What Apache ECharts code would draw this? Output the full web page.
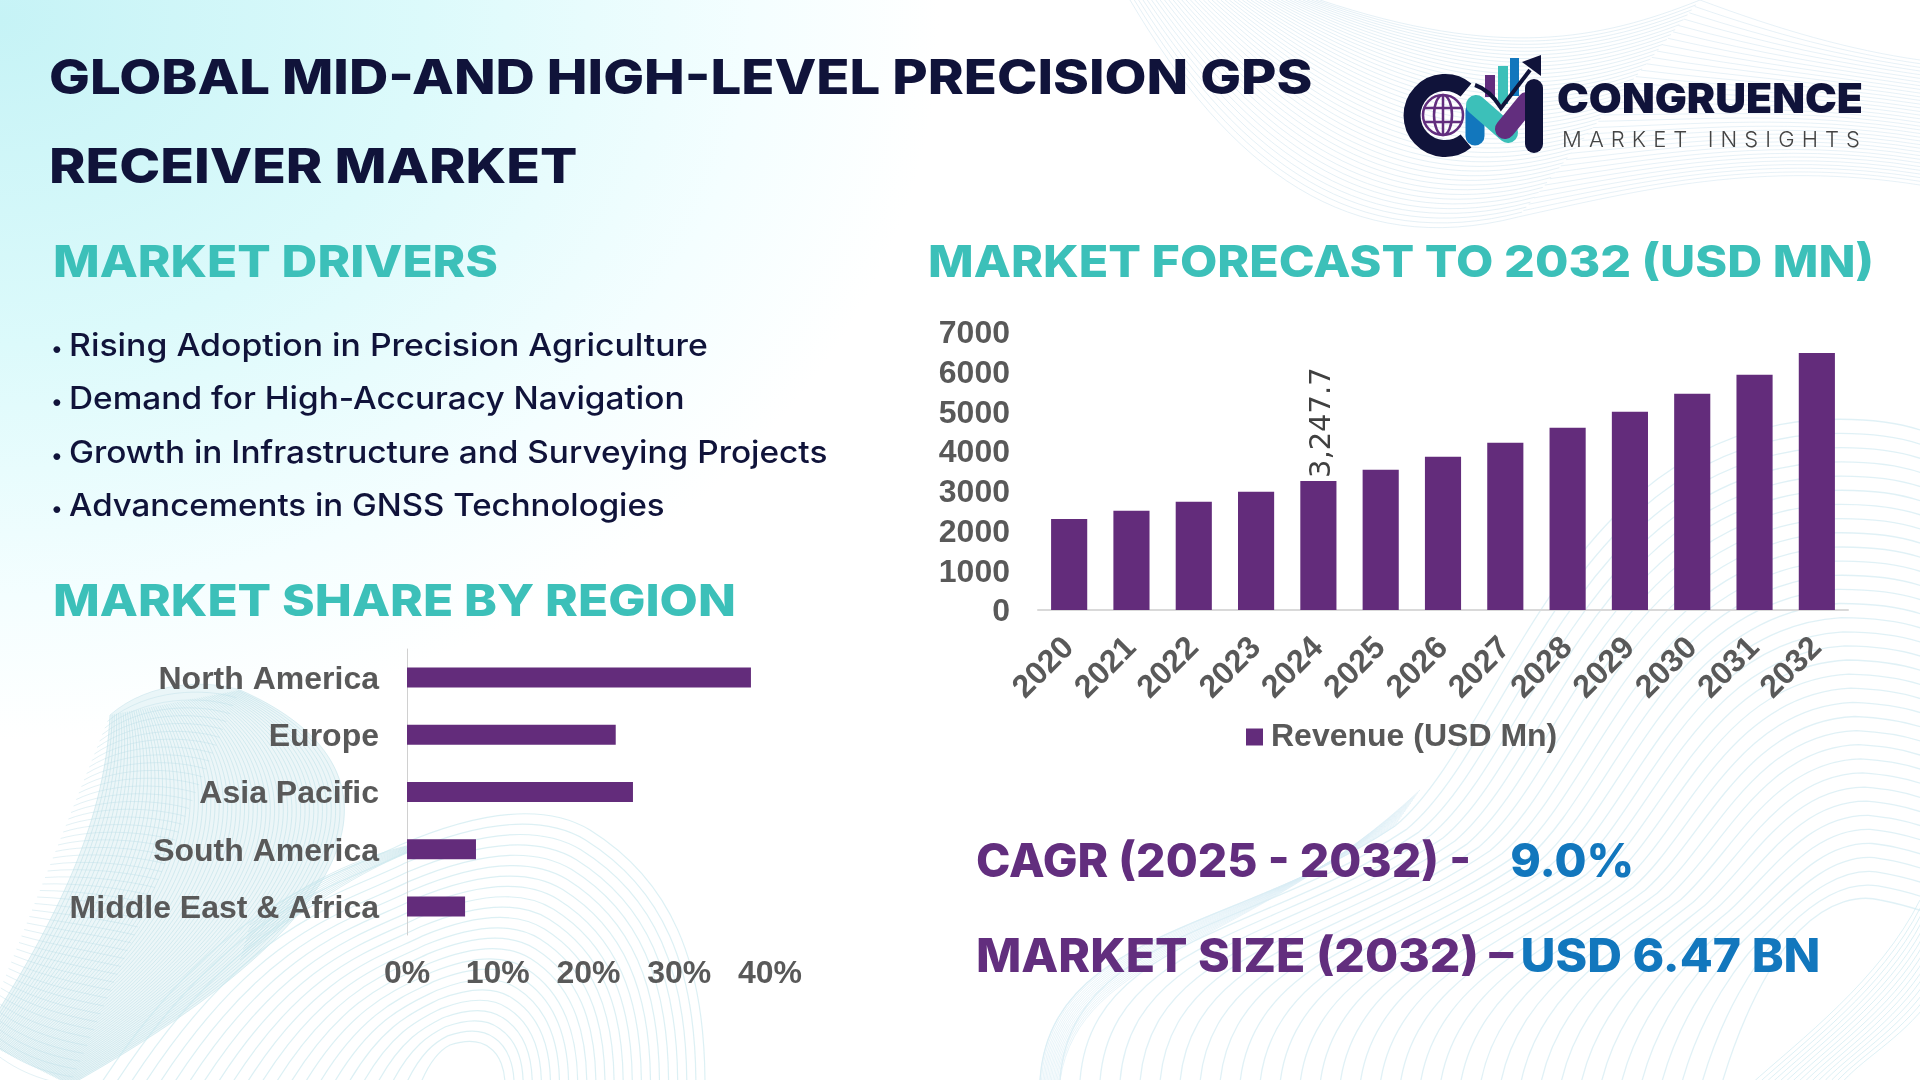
<!DOCTYPE html>
<html lang="en">
<head>
	<meta charset="UTF-8">
	<title>Global Mid-and High-Level Precision GPS Receiver Market</title>
	<script src="https://cdn.jsdelivr.net/npm/echarts@6/dist/echarts.min.js"></script>
	<style>
		html, body { margin:0; padding:0; width:1920px; height:1080px; overflow:hidden; background:#fff; }
		#wrap { position:relative; width:1920px; height:1080px; overflow:hidden;
			background:radial-gradient(ellipse 940px 720px at 0 20px, #c6f3f6 0%, #dcfafb 45%, #f4feff 80%, #ffffff 100%); }
		#bg, #chart, #logo { position:absolute; left:0; top:0; width:1920px; height:1080px; }
		.txt { position:absolute; margin:0; white-space:nowrap; font-family:'Inter',sans-serif; line-height:1; transform-origin:left center; }
		.title { color:#10133a; font-size:48px; font-weight:800; left:49px; }
		.head { color:#3cc0b9; font-size:44px; font-weight:800; }
		.bullet { color:#10133a; font-size:31px; font-weight:500; left:69px; }
		.dot { position:absolute; left:51px; color:#10133a; font:500 22px 'Inter',sans-serif; }
		.kpi { color:#622e7e; font-size:46px; font-weight:800; left:976px; }
		.kpi span { color:#1277bd; position:absolute; top:0; }
	</style>
</head>
<body>
	<div id="wrap">
		<svg id="bg" viewBox="0 0 1920 1080"></svg>
		<div id="chart"></div>

		<!-- headings// -->
		<h1 class="txt title" style="top:53px;transform:scaleX(1.134);">GLOBAL MID-AND HIGH-LEVEL PRECISION GPS</h1>
		<h1 class="txt title" style="top:142px;transform:scaleX(1.15);">RECEIVER MARKET</h1>
		<h2 class="txt head" style="left:53px;top:239px;transform:scaleX(1.125);">MARKET DRIVERS</h2>
		<h2 class="txt head" style="left:928px;top:239px;transform:scaleX(1.10);">MARKET FORECAST TO 2032 (USD MN)</h2>
		<h2 class="txt head" style="left:53px;top:578px;transform:scaleX(1.127);">MARKET SHARE BY REGION</h2>
		<!-- //headings -->

		<div class="dot" style="top:335px;">•</div>
		<div class="dot" style="top:388px;">•</div>
		<div class="dot" style="top:442px;">•</div>
		<div class="dot" style="top:495px;">•</div>
		<div class="txt bullet" style="top:329px;transform:scaleX(1.09);">Rising Adoption in Precision Agriculture</div>
		<div class="txt bullet" style="top:382px;transform:scaleX(1.077);">Demand for High-Accuracy Navigation</div>
		<div class="txt bullet" style="top:436px;transform:scaleX(1.077);">Growth in Infrastructure and Surveying Projects</div>
		<div class="txt bullet" style="top:489px;transform:scaleX(1.066);">Advancements in GNSS Technologies</div>

		<div class="txt kpi" style="top:837px;transform:scaleX(1.008);">CAGR (2025 - 2032) -<span style="left:530px;">9.0%</span></div>
		<div class="txt kpi" style="top:932px;transform:scaleX(1.045);">MARKET SIZE (2032) –<span style="left:521px;">USD 6.47 BN</span></div>

		<!-- logo// -->
		<svg id="logo" viewBox="0 0 1920 1080">
			<path d="M1466 90 A33 33 0 1 0 1466 141" fill="none" stroke="#10133a" stroke-width="17"/>
			<g fill="none" stroke="#622e7e" stroke-width="2.5">
				<circle cx="1443" cy="115" r="20"/>
				<ellipse cx="1443" cy="115" rx="9" ry="20"/>
				<path d="M1443 95 V135 M1424 108 H1462 M1424 122 H1462"/>
			</g>
			<path d="M1475 110 V136" stroke="#1277bd" stroke-width="19" stroke-linecap="round"/>
			<path d="M1476 105 L1508 133" stroke="#3cc0b9" stroke-width="20" stroke-linecap="round"/>
			<path d="M1505 129 L1527 102" stroke="#622e7e" stroke-width="20" stroke-linecap="round"/>
			<path d="M1534 88 V144" stroke="#10133a" stroke-width="18" stroke-linecap="round"/>
			<rect x="1485" y="75" width="10" height="22" fill="#622e7e"/>
			<rect x="1498" y="66" width="10" height="38" fill="#3cc0b9"/>
			<rect x="1510" y="58" width="9" height="38" fill="#1277bd"/>
			<path d="M1475 85 Q1490 90 1501 108 L1530 70" fill="none" stroke="#10133a" stroke-width="4"/>
			<path d="M1522 62 L1541 55 L1541 76 Z" fill="#10133a"/>
			<text x="1557" y="113" font-family="Inter" font-weight="900" font-size="41" fill="#10133a" textLength="306" lengthAdjust="spacingAndGlyphs">CONGRUENCE</text>
			<text x="1562" y="147" font-family="Inter" font-weight="300" font-size="22" fill="#444" textLength="298" lengthAdjust="spacing">MARKET INSIGHTS</text>
		</svg>
		<!-- //logo -->
	</div>

	<script>
	var years = ['2020', '2021', '2022', '2023', '2024', '2025', '2026', '2027', '2028', '2029', '2030', '2031', '2032'];
	var revenue = [2294, 2496, 2723, 2975, 3247.7, 3529, 3857, 4210, 4588, 4992, 5445, 5924, 6470];
	var regions = ['North America', 'Europe', 'Asia Pacific', 'South America', 'Middle East & Africa'];
	var regionShare = [37.9, 23, 24.9, 7.6, 6.4];
	var labelledYear = '2024';

	/* 배경 메쉬 */
	function ribbon(a, b, n, color, width, opacity) {
		var out = '';
		for (var i = 0; i <= n; i++) {
			var k = i / n, d = '';
			for (var j = 0; j < a.length; j++) {
				var x = (a[j][0] + (b[j][0] - a[j][0]) * k).toFixed(1);
				var y = (a[j][1] + (b[j][1] - a[j][1]) * k).toFixed(1);
				d += (j === 0 ? 'M' : (j === 1 ? ' C' : ' ')) + x + ' ' + y;
			}
			out += '<path d="' + d + '" fill="none" stroke="' + color + '" stroke-width="' + width + '" opacity="' + opacity + '"/>';
		}
		return out;
	}
	var bgHtml = '';
	// top right
	bgHtml += ribbon([[1130,0],[1230,170],[1350,260],[1518,217]], [[1320,0],[1500,60],[1600,40],[1700,0]], 44, '#d3e6f0', 1, 0.6);
	bgHtml += ribbon([[1518,217],[1640,190],[1760,160],[1920,185]], [[1700,0],[1780,30],[1850,50],[1920,60]], 34, '#d3e6f0', 1, 0.55);
	// bottom left blob
	bgHtml += '<path d="M110 715 C150 680 210 680 240 690 C400 760 400 900 70 1085 L-20 1040 C50 930 105 830 110 715Z" fill="#bfe1e9" opacity="0.3"/>';
	bgHtml += ribbon([[110,715],[105,830],[50,930],[-20,1040]], [[240,690],[400,760],[400,900],[70,1085]], 60, '#b8dde6', 1, 0.5);
	bgHtml += ribbon([[110,715],[150,680],[210,680],[240,690]], [[-20,1040],[10,1070],[40,1080],[70,1085]], 50, '#b8dde6', 1, 0.4);
	bgHtml += ribbon([[240,960],[300,910],[360,870],[420,848]], [[250,925],[300,885],[360,855],[420,843]], 10, '#b8dde6', 1, 0.5);
	// bottom centre domes
	bgHtml += ribbon(
		[[100,1085],[220,900],[330,880],[400,845],[470,815],[540,800],[590,830],[670,880],[705,960],[705,1085]],
		[[420,1085],[430,1060],[440,1050],[450,1045],[465,1040],[480,1040],[490,1048],[500,1055],[505,1070],[505,1085]],
		22, '#c9e8ee', 1.2, 0.65);
	// bottom right domes
	bgHtml += ribbon(
		[[1040,1080],[1050,930],[1240,930],[1395,826],[1500,740],[1560,440],[1814,420],[1850,418],[1890,420],[1920,430]],
		[[1720,1090],[1740,1020],[1770,960],[1800,930],[1830,900],[1860,895],[1880,900],[1895,903],[1905,905],[1925,912]],
		34, '#cfe9f1', 1.3, 0.65);
	bgHtml += ribbon([[1040,1080],[1050,930],[1240,930],[1395,826]], [[1060,1080],[1080,950],[1250,950],[1420,790]], 14, '#d9edf5', 1, 0.6);
	bgHtml += ribbon([[1920,900],[1880,980],[1800,1040],[1750,1085]], [[1930,1000],[1900,1040],[1860,1060],[1840,1085]], 14, '#cfe9f1', 1, 0.7);
	document.getElementById('bg').innerHTML = bgHtml;

	/* 차트 */
	var axisFont = { color:'#595959', fontFamily:'Liberation Sans', fontSize:32, fontWeight:'bold' };
	var chart = echarts.init(document.getElementById('chart'), null, { width:1920, height:1080 });
	chart.setOption({
		animation: false,
		backgroundColor: 'transparent',
		legend: {
			left: 1241,
			top: 716,
			icon: 'rect',
			itemWidth: 17,
			itemHeight: 17,
			itemGap: 8,
			textStyle: Object.assign({ padding:[0, 0, 0, 3] }, axisFont),
			data: ['Revenue (USD Mn)']
		},
		grid: [
			{ left:1038, top:332, width:810, height:278 },
			{ left:407, top:649, width:363, height:286 }
		],
		xAxis: [
			{
				type: 'category',
				gridIndex: 0,
				data: years,
				axisTick: { show:false },
				axisLine: { lineStyle:{ color:'#d9d9d9', width:2 } },
				axisLabel: Object.assign({ rotate:45, margin:33, interval:0 }, axisFont)
			},
			{
				type: 'value',
				gridIndex: 1,
				min: 0,
				max: 40,
				interval: 10,
				splitLine: { show:false },
				axisLine: { show:false },
				axisLabel: Object.assign({ margin:23, formatter:'{value}%' }, axisFont)
			}
		],
		yAxis: [
			{
				type: 'value',
				gridIndex: 0,
				min: 0,
				max: 7000,
				interval: 1000,
				splitLine: { show:false },
				axisLine: { show:false },
				axisLabel: Object.assign({ margin:28, verticalAlign:'top', lineHeight:5, formatter:function(v) { return String(v); } }, axisFont)
			},
			{
				type: 'category',
				gridIndex: 1,
				inverse: true,
				data: regions,
				axisTick: { show:false },
				axisLine: { lineStyle:{ color:'#d0d0d0', width:1 } },
				axisLabel: Object.assign({ margin:28, interval:0, verticalAlign:'top', lineHeight:5 }, axisFont)
			}
		],
		series: [
			{
				name: 'Revenue (USD Mn)',
				type: 'bar',
				xAxisIndex: 0,
				yAxisIndex: 0,
				barWidth: '58%',
				itemStyle: { color:'#632c7b' },
				label: {
					show: true,
					position: 'top',
					rotate: 90,
					distance: 1,
					offset: [2, 4],
					align: 'left',
					verticalAlign: 'middle',
					color: '#404040',
					fontFamily: 'DejaVu Sans',
					fontSize: 29,
					formatter: function(p) {
						return p.name === labelledYear ? echarts.format.addCommas(p.value) : '';
					}
				},
				data: revenue
			},
			{
				name: 'Share',
				type: 'bar',
				xAxisIndex: 1,
				yAxisIndex: 1,
				barWidth: 20,
				itemStyle: { color:'#632c7b' },
				data: regionShare
			}
		]
	});
	</script>
</body>
</html>
